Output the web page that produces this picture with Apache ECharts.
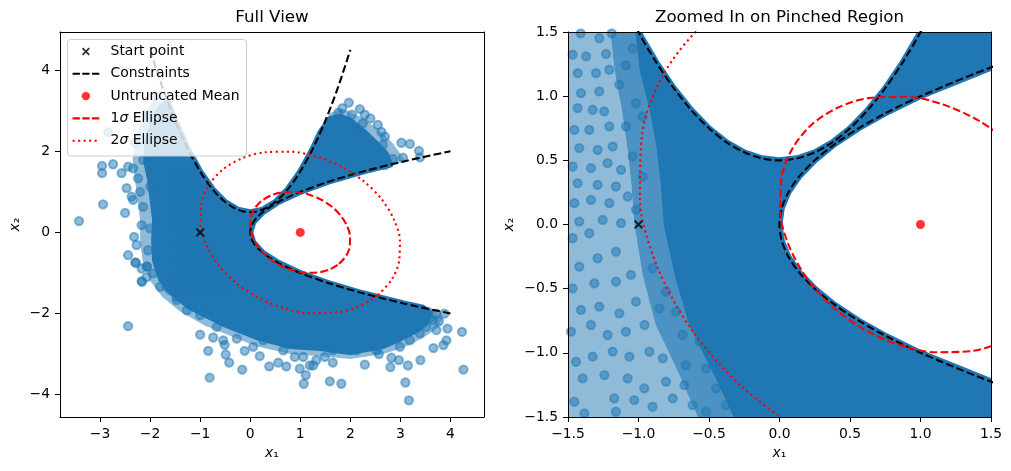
<!DOCTYPE html>
<html>
<head>
<meta charset="utf-8">
<script src="https://cdn.jsdelivr.net/npm/echarts@6/dist/echarts.min.js"></script>
<style>html,body{margin:0;padding:0;background:#fff}#chart{width:1011px;height:471px}</style>
</head>
<body>
<div id="chart"></div>
<script>
// constraint curves: x2 = x1^2 + 0.5 and x1 = x2^2
var parabolaPts = [[-2,4.5],[-1.75,3.5625],[-1.5,2.75],[-1.25,2.0625],[-1,1.5],[-0.875,1.2656],[-0.75,1.0625],[-0.625,0.8906],[-0.5,0.75],[-0.375,0.6406],[-0.25,0.5625],[-0.125,0.5156],[0,0.5],[0.125,0.5156],[0.25,0.5625],[0.375,0.6406],[0.5,0.75],[0.625,0.8906],[0.75,1.0625],[0.875,1.2656],[1,1.5],[1.25,2.0625],[1.5,2.75],[1.75,3.5625],[2,4.5]];
var sqrtPts = [[4,-2],[3.0625,-1.75],[2.25,-1.5],[1.5625,-1.25],[1,-1],[0.7656,-0.875],[0.5625,-0.75],[0.3906,-0.625],[0.25,-0.5],[0.1406,-0.375],[0.0625,-0.25],[0.0156,-0.125],[0,0],[0.0156,0.125],[0.0625,0.25],[0.1406,0.375],[0.25,0.5],[0.3906,0.625],[0.5625,0.75],[0.7656,0.875],[1,1],[1.5625,1.25],[2.25,1.5],[3.0625,1.75],[4,2]];

// ellipses around the mean
var sigma1Pts = [[1.775,-0.775],[1.912,-0.585],[1.987,-0.355],[1.995,-0.101],[1.935,0.161],[1.811,0.410],[1.633,0.633],[1.410,0.811],[1.161,0.935],[0.900,0.995],[0.646,0.987],[0.416,0.912],[0.225,0.775],[0.088,0.585],[0.013,0.355],[0.005,0.101],[0.065,-0.161],[0.189,-0.410],[0.368,-0.633],[0.590,-0.811],[0.840,-0.935],[1.101,-0.995],[1.355,-0.987],[1.585,-0.912],[1.775,-0.775]];
var sigma2Pts = [[2.549,-1.549],[2.824,-1.169],[2.974,-0.709],[2.990,-0.201],[2.870,0.321],[2.623,0.821],[2.265,1.265],[1.821,1.623],[1.321,1.870],[0.799,1.990],[0.291,1.974],[-0.169,1.824],[-0.549,1.549],[-0.824,1.169],[-0.974,0.709],[-0.990,0.201],[-0.870,-0.321],[-0.623,-0.821],[-0.265,-1.265],[0.179,-1.623],[0.679,-1.870],[1.201,-1.990],[1.709,-1.974],[2.169,-1.824],[2.549,-1.549]];

var startPoint = [[-1, 0]];
var meanPoint = [[1, 0]];

// outline of the solid part of the sample cloud (full view)
var fullCoreOutline = [[-1.65,3.22],[-1.5,2.75],[-1.25,2.0625],[-1,1.5],[-0.75,1.0625],[-0.5,0.75],[-0.25,0.5625],[0,0.5],
  [0.25,0.5625],[0.5,0.75],[0.75,1.0625],[1,1.5],[1.25,2.0625],[1.4,2.46],[1.6,2.8],[1.8,2.85],[2.0,2.75],[2.25,2.5],[2.5,2.2],[2.7,1.95],[2.8,1.673],
  [2.25,1.5],[1.5625,1.25],[1,1],[0.5625,0.75],[0.25,0.5],[0.0625,0.25],[0,0],
  [0.0625,-0.25],[0.25,-0.5],[0.5625,-0.75],[1,-1],[1.5625,-1.25],[2.25,-1.5],[3.0625,-1.75],[3.45,-1.857],
  [3.58,-2.0],[3.52,-2.21],[3.32,-2.41],[2.99,-2.62],[2.65,-2.8],[2.0,-2.95],[1.4,-2.85],[0.8,-2.8],[0.13,-2.58],[-0.54,-2.25],[-1.2,-1.84],[-1.55,-1.5],[-1.78,-1.15],[-1.9,-0.7],[-1.92,-0.2],[-1.9,0.3],[-1.95,0.8],[-2.0,1.3],[-2.08,1.75],[-2.05,2.2],[-1.95,2.7],[-1.8,3.05]];
// outline of the thinner fringe around it (full view)
var fullFringeOutline = [[-1.65,3.22],[-1.5,2.75],[-1.25,2.0625],[-1,1.5],[-0.75,1.0625],[-0.5,0.75],[-0.25,0.5625],[0,0.5],[0.25,0.5625],[0.5,0.75],[0.75,1.0625],[1,1.5],[1.25,2.0625],[1.45,2.6],
  [1.6,2.95],[1.85,3.05],[2.2,2.85],[2.55,2.55],[2.85,2.2],[3.1,1.76],
  [2.25,1.5],[1.5625,1.25],[1,1],[0.5625,0.75],[0.25,0.5],[0.0625,0.25],[0,0],[0.0625,-0.25],[0.25,-0.5],[0.5625,-0.75],[1,-1],[1.5625,-1.25],[2.25,-1.5],[3.0625,-1.75],[3.7,-1.92],
  [3.85,-2.1],[3.75,-2.35],[3.45,-2.6],[3.05,-2.85],[2.65,-3.0],[2.0,-3.12],[1.4,-3.05],[0.8,-3.0],[0.1,-2.8],[-0.4,-2.55],[-0.9,-2.3],[-1.4,-1.95],[-1.75,-1.6],[-2.0,-1.2],[-2.15,-0.7],[-2.2,-0.2],[-2.2,0.3],[-2.25,0.8],[-2.3,1.3],[-2.35,1.8],[-2.3,2.3],[-2.15,2.8],[-1.95,3.25]];

// zoomed view: where the cloud turns solid, and where it thins out further
var zoomSolidEdge = [[-1.0,1.5],[-0.97,1.2],[-0.9,0.9],[-0.85,0.6],[-0.82,0.3],[-0.8,0.0],[-0.72,-0.4],[-0.62,-0.78],[-0.45,-1.15],[-0.3,-1.5]];
var zoomHazeEdge = [[-1.2,1.5],[-1.17,1.2],[-1.12,0.9],[-1.08,0.6],[-1.05,0.3],[-1.03,0.0],[-0.97,-0.4],[-0.88,-0.78],[-0.72,-1.15],[-0.58,-1.5]];

// single samples that stand out of the cloud
var samplePts = [
  [-2.96,1.64],[-2.96,1.46],[-2.74,1.68],[-2.57,1.46],[-2.44,1.62],[-2.47,1.09],[-2.94,0.69],[-3.42,0.28],[-2.5,0.48],[-2.34,0.8],[-2.2,1.0],[-2.32,-0.11],[-2.44,-0.56],[-2.28,-0.75],[-2.17,-1.2],[-2.06,-0.85],[-1.8,-1.34],[-1.6,-1.42],[-2.3,-0.74],[-2.07,-0.83],[-2.16,-1.22],[-2.44,-2.31],
  [-2.84,2.47],[-1.77,2.48],[-1.9,3.35],[-2.3,2.2],[-2.05,2.9],
  [-2.24,1.33],[-2.14,0.63],[-2.0,0.1],[-2.17,0.18],[-2.04,-0.44],[-2.27,-0.31],[-2.17,-0.89],[-1.94,-1.01],[-1.67,-1.34],[-1.47,-1.59],[-2.07,-1.1],[-2.37,0.88],[-2.0,1.13],[-1.9,1.62],[-2.14,1.79],[-2.34,1.58],
  [-1.0,-2.52],[-0.84,-2.92],[-0.81,-3.58],[-0.49,-3.01],[-0.42,-3.21],[-0.16,-3.38],[-0.11,-2.92],[0.19,-3.05],[0.38,-3.3],[0.56,-3.21],[0.72,-3.3],[0.89,-3.07],[0.99,-3.36],[1.11,-3.52],[1.07,-3.73],[1.19,-3.28],[1.59,-3.67],[1.82,-3.73],[2.29,-3.26],[2.8,-3.32],[2.82,-3.09],[2.97,-3.15],[3.15,-3.28],[2.57,-3.0],[1.65,-3.21],[1.49,-3.07],[1.26,-3.28],[3.17,-4.14],[3.1,-3.7],[3.4,-3.15],[3.66,-2.85],[3.86,-2.78],[3.92,-2.66],[3.94,-2.37],[3.72,-2.41],[3.77,-2.19],[3.58,-2.12],[4.23,-2.45],[4.26,-3.38],
  [-0.67,-2.33],[-0.54,-2.66],[-0.27,-2.62],[0.06,-2.82],[0.26,-2.66],[0.66,-2.91],[1.06,-3.07],[1.32,-3.15],[-1.0,-2.04],[-1.47,-1.67],[-1.27,-1.92],[-0.74,-2.59],[-0.51,-2.77],
  [1.65,-2.91],[2.12,-2.91],[2.52,-2.91],[2.99,-2.82],[3.19,-2.66],[3.39,-2.49],[3.52,-2.33],[3.65,-2.17],[3.55,-1.96],[3.72,-2.0],[3.88,-2.0],
  [1.97,3.2],[1.84,3.06],[1.76,2.95],[2.19,3.04],[2.03,2.9],[2.29,2.9],[2.4,2.81],[2.25,2.69],[2.55,2.65],[2.62,2.48],[2.69,2.36],[2.13,2.53],[3.02,2.21],[3.19,2.18],[3.37,2.01],[3.39,1.85],[3.05,1.84],[2.85,1.81],[2.69,1.83],[2.65,2.16],[2.69,1.66],
  [-1.467,1.323],[-1.372,1.31],[-1.431,1.18],[-1.278,1.453],[-1.23,1.33],[-1.301,1.18],[-1.207,1.206],[-1.408,1.024],[-1.278,1.037],[-1.136,1.09],[-1.432,0.907],[-1.325,0.894],[-1.243,0.881],[-1.455,0.738],[-1.349,0.738],[-1.207,0.764],[-1.089,0.764],[-1.42,0.595],[-1.29,0.582],[-1.183,0.608],[-1.467,0.452],[-1.337,0.439],[-1.219,0.478],[-1.124,0.426],[-1.432,0.322],[-1.29,0.309],[-1.16,0.296],[-1.455,0.166],[-1.337,0.192],[-1.207,0.166],[-1.077,0.218],[-1.42,0.023],[-1.254,0.036],[-1.124,0.01],[-1.041,1.37],[-1.089,1.24],[-1.018,0.945],[-0.97,0.84],[-1.041,0.53],[-0.97,0.374],[-1.018,0.115],[-1.41,1.49],[-1.19,1.49],
  [-1.467,-0.107],[-1.349,-0.068],[-1.42,-0.328],[-1.29,-0.263],[-1.16,-0.211],[-1.467,-0.497],[-1.313,-0.458],[-1.16,-0.445],[-1.053,-0.393],[-1.408,-0.666],[-1.278,-0.64],[-1.136,-0.692],[-1.018,-0.601],[-1.479,-0.835],[-1.337,-0.783],[-1.219,-0.861],[-1.089,-0.835],[-0.957,-0.783],[-1.443,-1.07],[-1.325,-1.03],[-1.183,-0.99],[-1.065,-1.03],[-0.923,-0.99],[-0.828,-1.043],[-1.396,-1.199],[-1.242,-1.173],[-1.077,-1.199],[-0.959,-1.277],[-0.805,-1.225],[-0.675,-1.251],[-1.455,-1.381],[-1.172,-1.355],[-1.03,-1.368],[-0.9,-1.42],[-0.757,-1.355],[-0.616,-1.407],[-0.521,-1.459],[-1.16,-1.459],[-1.384,-1.472],
  [-0.9,-0.341],[-0.805,-0.523],[-0.734,-0.679],[-0.852,-0.653],[-0.687,-0.861],[-0.569,-0.913],[-0.663,-1.095],[-0.521,-1.121],[-0.45,-1.277],[-0.379,-1.407]
];

var fullXTicks = [-3,-2,-1,0,1,2,3,4];
var fullYTicks = [-4,-2,0,2,4];
var zoomTicks = [-1.5,-1.0,-0.5,0.0,0.5,1.0,1.5];

var FONT = 'DejaVu Sans';
var BLUE = '#1f77b4';

var zoomCore = parabolaPts.filter(function (p) { return p[0] >= -1 && p[0] <= 1.25; })
  .concat([[2.25, 2.0625]])
  .concat(sqrtPts.filter(function (p) { return p[0] <= 2.25; }).reverse())
  .concat(zoomSolidEdge.slice().reverse());
var zoomNear = zoomHazeEdge.concat(zoomSolidEdge.slice().reverse());
var zoomFar = [[-1.5, 1.5]].concat(zoomHazeEdge, [[-1.5, -1.5]]);

var xMark = 'path://M0.3,1.6L1.6,0.3L8.3,7L7,8.3ZM7,0.3L8.3,1.6L1.6,8.3L0.3,7Z';
var iconX = 'path://M0,0M33,14M9.3,4.3L10.6,3L17.3,9.7L16,11ZM16,3L17.3,4.3L10.6,11L9.3,9.7Z';
var iconDash = 'path://M0,0M33,14M0,5.95L7.3,5.95L7.3,8.05L0,8.05ZM9.7,5.95L17,5.95L17,8.05L9.7,8.05ZM19.4,5.95L26.7,5.95L26.7,8.05L19.4,8.05Z';
var iconDot = 'path://M0,0M33,14M0,5.95L2.1,5.95L2.1,8.05L0,8.05ZM5.5,5.95L7.6,5.95L7.6,8.05L5.5,8.05ZM11,5.95L13.1,5.95L13.1,8.05L11,8.05ZM16.5,5.95L18.6,5.95L18.6,8.05L16.5,8.05ZM22,5.95L24.1,5.95L24.1,8.05L22,8.05Z';
var iconDisc = 'path://M0,0M33,14M9.1,7A4.2,4.2,0,1,1,17.5,7A4.2,4.2,0,1,1,9.1,7Z';

var chart = echarts.init(document.getElementById('chart'));

function poly(pts, fill, solid, k) {
  return {
    type: 'custom', xAxisIndex: 2 * k, yAxisIndex: 2 * k, clip: true, silent: true, z: 1,
    data: [pts[0]],
    renderItem: function (params, api) {
      return {
        type: 'polygon',
        shape: { points: pts.map(function (p) { return api.coord(p); }) },
        style: { fill: fill, stroke: solid ? fill : null, lineWidth: solid ? 6 : 0, lineJoin: 'round' }
      };
    }
  };
}

function curve(name, pts, k, color, dash) {
  return {
    name: name, type: 'line', xAxisIndex: 2 * k, yAxisIndex: 2 * k, data: pts,
    smooth: 0.3, showSymbol: false, symbol: 'none', silent: true, z: 4, color: color,
    lineStyle: { color: color, width: 2.1, type: dash, cap: 'butt' }
  };
}

var series = [];
[0, 1].forEach(function (k) {
  if (k === 0) {
    series.push(poly(fullFringeOutline, 'rgba(31,119,180,0.5)', false, 0));
    series.push(poly(fullCoreOutline, BLUE, true, 0));
  } else {
    series.push(poly(zoomFar, 'rgba(31,119,180,0.5)', false, 1));
    series.push(poly(zoomNear, 'rgba(31,119,180,0.8)', false, 1));
    series.push(poly(zoomCore, BLUE, true, 1));
  }
  series.push({
    type: 'scatter', xAxisIndex: 2 * k, yAxisIndex: 2 * k, data: samplePts, symbolSize: 8.3, silent: true, z: 2,
    itemStyle: { color: BLUE, opacity: 0.5, borderColor: BLUE, borderWidth: 2 }
  });
  series.push(curve('Constraints', parabolaPts, k, '#000000', [7.7, 3.3]));
  series.push(curve('Constraints', sqrtPts, k, '#000000', [7.7, 3.3]));
  series.push(curve('1σ Ellipse', sigma1Pts, k, '#ff0000', [7.7, 3.3]));
  series.push(curve('2σ Ellipse', sigma2Pts, k, '#ff0000', [2.1, 3.4]));
  series.push({
    name: 'Start point', type: 'scatter', xAxisIndex: 2 * k, yAxisIndex: 2 * k, data: startPoint,
    symbol: xMark, symbolSize: 9, silent: true, z: 6, itemStyle: { color: '#000000' }
  });
  series.push({
    name: 'Untruncated Mean', type: 'scatter', xAxisIndex: 2 * k, yAxisIndex: 2 * k, data: meanPoint,
    symbolSize: 9, silent: true, z: 6, itemStyle: { color: '#ff0000' }
  });
});

// translucent legend frame, drawn as a series so it sits above the plotted marks
series.push({
  type: 'custom', xAxisIndex: 0, yAxisIndex: 0, silent: true, z: 9, clip: false,
  data: [[0, 0]],
  renderItem: function () {
    return {
      type: 'group',
      children: [
        { type: 'rect', shape: { x: 67.5, y: 39.5, width: 179, height: 116.5, r: 3 }, style: { fill: '#ffffff', opacity: 0.8 } },
        { type: 'rect', shape: { x: 67.5, y: 39.5, width: 179, height: 116.5, r: 3 }, style: { fill: null, stroke: '#cccccc', lineWidth: 1 } }
      ]
    };
  }
});

var labelStyle = { color: '#000', fontSize: 13.9, fontFamily: FONT };
var nameStyle = { color: '#000', fontSize: 13.9, fontFamily: FONT, rich: { i: { fontStyle: 'italic', fontSize: 13.9, fontFamily: FONT, color: '#000' } } };
function intFmt(v) { return String(v).replace('-', '\u2212'); }
function decFmt(v) { return v.toFixed(1).replace('-', '\u2212'); }

function mainAxis(grid, min, max, ticks, fmt, pos, name, gap) {
  return {
    type: 'value', gridIndex: grid, min: min, max: max, position: pos, z: 10,
    axisLine: { show: true, onZero: false, lineStyle: { color: '#000', width: 1 } },
    axisTick: { show: true, length: 5, customValues: ticks, lineStyle: { color: '#000', width: 1 } },
    axisLabel: Object.assign({ customValues: ticks, formatter: fmt, margin: 10 }, labelStyle),
    splitLine: { show: false },
    name: name, nameLocation: 'middle', nameGap: gap, nameRotate: pos === 'left' ? 90 : 0,
    nameTextStyle: nameStyle
  };
}
function edgeAxis(grid, min, max, pos) {
  return {
    type: 'value', gridIndex: grid, min: min, max: max, position: pos, z: 10,
    axisLine: { show: true, onZero: false, lineStyle: { color: '#000', width: 1 } },
    axisTick: { show: false }, axisLabel: { show: false }, splitLine: { show: false }
  };
}

chart.setOption({
  animation: false,
  backgroundColor: '#ffffff',
  grid: [
    { left: 60, top: 32, width: 424, height: 385, outerBoundsMode: 'none' },
    { left: 568, top: 32, width: 423, height: 385, outerBoundsMode: 'none' }
  ],
  xAxis: [
    mainAxis(0, -3.8, 4.67, fullXTicks, intFmt, 'bottom', '{i|x}\u2081', 27),
    edgeAxis(0, -3.8, 4.67, 'top'),
    mainAxis(1, -1.5, 1.5, zoomTicks, decFmt, 'bottom', '{i|x}\u2081', 27),
    edgeAxis(1, -1.5, 1.5, 'top')
  ],
  yAxis: [
    mainAxis(0, -4.55, 4.94, fullYTicks, intFmt, 'left', '{i|x}\u2082', 38),
    edgeAxis(0, -4.55, 4.94, 'right'),
    mainAxis(1, -1.5, 1.5, zoomTicks, decFmt, 'left', '{i|x}\u2082', 52),
    edgeAxis(1, -1.5, 1.5, 'right')
  ],
  legend: {
    zlevel: 1, z: 20,
    left: 67, top: 39, orient: 'vertical', itemWidth: 33, itemHeight: 14, itemGap: 8.3,
    padding: [5.5, 8, 8, 5.6], selectedMode: false,
    itemStyle: { borderWidth: 0 },
    textStyle: { color: '#000', fontSize: 13.9, fontFamily: FONT, rich: { i: { fontStyle: 'italic', fontSize: 13.9, fontFamily: FONT, color: '#000' } } },
    formatter: function (n) { return n.replace('σ', '{i|σ}'); },
    data: [
      { name: 'Start point', icon: iconX },
      { name: 'Constraints', icon: iconDash },
      { name: 'Untruncated Mean', icon: iconDisc },
      { name: '1σ Ellipse', icon: iconDash },
      { name: '2σ Ellipse', icon: iconDot }
    ]
  },
  graphic: [
    { type: 'text', x: 272, y: 18, silent: true, style: { text: 'Full View', fill: '#000', font: '16.7px "DejaVu Sans"', align: 'center', verticalAlign: 'middle' } },
    { type: 'text', x: 779.5, y: 18, silent: true, style: { text: 'Zoomed In on Pinched Region', fill: '#000', font: '16.7px "DejaVu Sans"', align: 'center', verticalAlign: 'middle' } }
  ],
  series: series
});
</script>
</body>
</html>
